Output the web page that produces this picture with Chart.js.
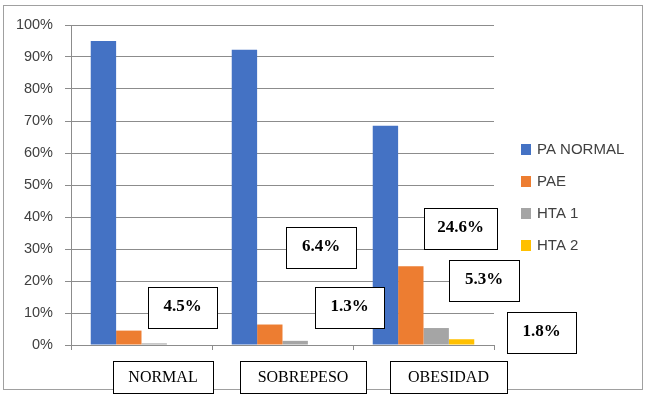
<!DOCTYPE html>
<html>
<head>
<meta charset="utf-8">
<script src="https://cdn.jsdelivr.net/npm/chart.js@4/dist/chart.umd.min.js"></script>
<style>
  html, body { margin: 0; padding: 0; background: #fff; }
  #wrap { width: 648px; height: 399px; }
</style>
</head>
<body>
<div id="wrap"><canvas id="chart" width="648" height="399"></canvas></div>
<script>
// categorias y series (porcentaje)
const categorias = ['NORMAL', 'SOBREPESO', 'OBESIDAD'];
const paNormal = [95.0, 92.3, 68.5];
const pae = [4.5, 6.4, 24.6];
const hta1 = [0.5, 1.3, 5.3];
const hta2 = [0, 0, 1.8];
const etiquetasY = [0, 10, 20, 30, 40, 50, 60, 70, 80, 90, 100];

// cajas de texto de porcentaje colocadas a mano en el original
const cajasPct = [
    { text: '4.5%', x: 148, y: 287, w: 69, h: 41 },
    { text: '6.4%', x: 286, y: 227, w: 70, h: 41 },
    { text: '1.3%', x: 315, y: 287, w: 69, h: 41 },
    { text: '24.6%', x: 424, y: 208, w: 73, h: 41 },
    { text: '5.3%', x: 449, y: 260, w: 70, h: 41 },
    { text: '1.8%', x: 507, y: 312, w: 69, h: 41 }
];
const cajasCat = [
    { x: 113, y: 361, w: 100, h: 32 },
    { x: 240, y: 361, w: 126, h: 32 },
    { x: 390, y: 361, w: 117, h: 32 }
];

const gris = '#8c8c8c';

const marcoPlugin = {
    id: 'marco',
    beforeDraw(chart) {
        const ctx = chart.ctx;
        ctx.save();
        ctx.fillStyle = '#fff';
        ctx.fillRect(0, 0, chart.width, chart.height);
        ctx.strokeStyle = '#a0a0a0';
        ctx.lineWidth = 1;
        ctx.strokeRect(3.5, 5.5, 639, 384);
        ctx.restore();
    },
    afterDraw(chart) {
        const ctx = chart.ctx;
        ctx.save();
        // leyenda
        chart.data.datasets.forEach(function(ds, i) {
            const y = 149 + i * 32;
            ctx.fillStyle = ds.backgroundColor;
            ctx.fillRect(521, y - 5, 10, 11);
            ctx.fillStyle = '#404040';
            ctx.font = '15px "Liberation Sans", Arial, sans-serif';
            ctx.textAlign = 'left';
            ctx.textBaseline = 'middle';
            ctx.fillText(ds.label, 537, y + 1);
        });
        // cajas de categorias
        ctx.lineWidth = 1;
        ctx.strokeStyle = '#000';
        cajasCat.forEach(function(b, i) {
            ctx.fillStyle = '#fff';
            ctx.fillRect(b.x, b.y, b.w, b.h);
            ctx.strokeRect(b.x + 0.5, b.y + 0.5, b.w, b.h);
            ctx.fillStyle = '#000';
            ctx.font = '16px "Liberation Serif", "Times New Roman", serif';
            ctx.textAlign = 'center';
            ctx.textBaseline = 'middle';
            ctx.fillText(chart.data.labels[i], b.x + b.w / 2, b.y + b.h / 2 + 1);
        });
        // cajas de porcentaje
        cajasPct.forEach(function(b) {
            ctx.fillStyle = '#fff';
            ctx.fillRect(b.x, b.y, b.w, b.h);
            ctx.strokeRect(b.x + 0.5, b.y + 0.5, b.w, b.h);
            ctx.fillStyle = '#000';
            ctx.font = 'bold 17px "Liberation Serif", "Times New Roman", serif';
            ctx.textAlign = 'center';
            ctx.textBaseline = 'middle';
            ctx.fillText(b.text, b.x + b.w / 2, b.y + b.h / 2 - 1);
        });
        ctx.restore();
    }
};

var ctx = document.getElementById('chart').getContext('2d');
var myChart = new Chart(ctx, {
    type: 'bar',
    data: {
        labels: categorias,
        datasets: [{
            label: 'PA NORMAL',
            data: paNormal,
            backgroundColor: '#4472C4'
        }, {
            label: 'PAE',
            data: pae,
            backgroundColor: '#ED7D31'
        }, {
            label: 'HTA 1',
            data: hta1,
            backgroundColor: '#A5A5A5'
        }, {
            label: 'HTA 2',
            data: hta2,
            backgroundColor: '#FFC000'
        }]
    },
    options: {
        responsive: false,
        animation: false,
        layout: {
            padding: { left: 0, top: 25, right: 154, bottom: 0 }
        },
        datasets: {
            bar: {
                categoryPercentage: 0.72,
                barPercentage: 1.0
            }
        },
        plugins: {
            legend: { display: false },
            tooltip: { enabled: false }
        },
        scales: {
            x: {
                grid: {
                    drawOnChartArea: false,
                    drawTicks: true,
                    tickLength: 5,
                    color: gris
                },
                border: { display: true, color: gris },
                ticks: {
                    callback: function() { return ''; }
                },
                afterFit: function(scale) { scale.height = 54; }
            },
            y: {
                min: 0,
                max: 100,
                afterBuildTicks: function(scale) {
                    scale.ticks = etiquetasY.map(function(v) { return { value: v }; });
                },
                grid: {
                    color: gris,
                    tickLength: 6
                },
                border: { display: true, color: gris },
                ticks: {
                    padding: 12,
                    color: '#404040',
                    font: { family: '"Liberation Sans", Arial, sans-serif', size: 14.5 },
                    callback: function(v) { return v + '%'; }
                },
                afterFit: function(scale) { scale.width = 71; }
            }
        }
    },
    plugins: [marcoPlugin]
});
</script>
</body>
</html>
